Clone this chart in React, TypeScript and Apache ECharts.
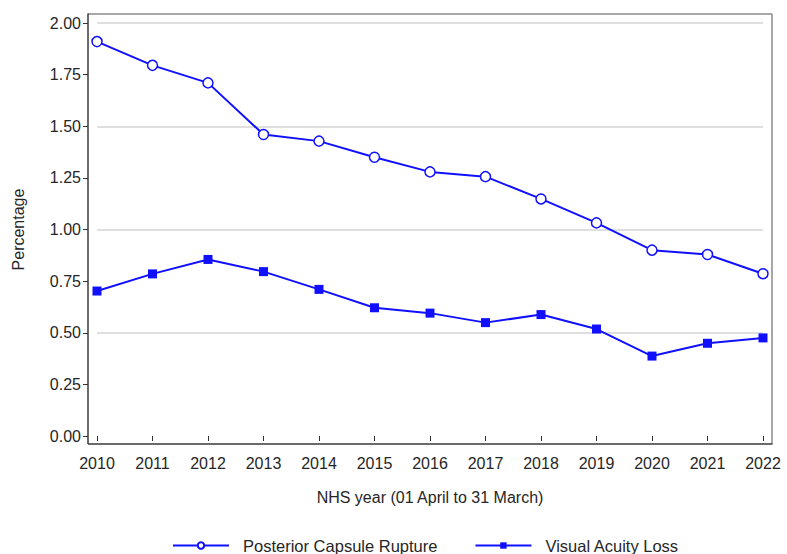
import React, { useEffect, useRef } from "react";
import * as echarts from "echarts";

const years = ["2010", "2011", "2012", "2013", "2014", "2015", "2016", "2017", "2018", "2019", "2020", "2021", "2022"];
const posteriorCapsuleRupture = [1.91, 1.795, 1.71, 1.46, 1.428, 1.35, 1.279, 1.256, 1.148, 1.032, 0.9, 0.879, 0.786];
const visualAcuityLoss = [0.702, 0.785, 0.855, 0.796, 0.71, 0.621, 0.595, 0.549, 0.588, 0.518, 0.387, 0.449, 0.475];
const seriesNames = ["Posterior Capsule Rupture", "Visual Acuity Loss"];

const FONT = "Liberation Sans, Arial, sans-serif";
const TEXT = "#262626";
const BLUE = "#1010ff";

export default function App() {
  const ref = useRef<HTMLDivElement>(null);
  useEffect(() => {
    if (!ref.current) return;
    const chart = echarts.init(ref.current, null, { renderer: "svg" });
    chart.setOption({
      animation: false,
      backgroundColor: "#ffffff",
      textStyle: { fontFamily: FONT },
      grid: { left: 97, right: 24, top: 23, bottom: 118 },
      legend: {
        top: 532,
        left: 167,
        itemWidth: 56,
        itemHeight: 8,
        itemGap: 37,
        textStyle: { fontFamily: FONT, fontSize: 16.5, color: TEXT, padding: [0, 0, 0, 9] },
        data: seriesNames,
      },
      xAxis: {
        type: "category",
        data: years,
        boundaryGap: false,
        offset: 8,
        axisLine: { show: false },
        axisTick: { show: true, length: 5, lineStyle: { color: "#333" } },
        axisLabel: { fontSize: 16, color: TEXT, margin: 11, fontFamily: FONT },
        splitLine: { show: false },
        name: "NHS year (01 April to 31 March)",
        nameLocation: "middle",
        nameGap: 45,
        nameTextStyle: { fontSize: 16, color: TEXT, fontFamily: FONT },
      },
      yAxis: [
        {
          type: "value",
          min: 0,
          max: 2,
          interval: 0.25,
          offset: 9,
          axisLine: { show: false },
          axisTick: { show: true, length: 5, lineStyle: { color: "#333" } },
          axisLabel: {
            fontSize: 16,
            color: TEXT,
            margin: 7,
            fontFamily: FONT,
            formatter: (v: number) => v.toFixed(2),
          },
          splitLine: { show: false },
          name: "Percentage",
          nameLocation: "middle",
          nameGap: 62,
          nameTextStyle: { fontSize: 16, color: TEXT, fontFamily: FONT },
        },
        {
          type: "value",
          min: 0,
          max: 2,
          interval: 0.5,
          position: "left",
          axisLine: { show: false },
          axisTick: { show: false },
          axisLabel: { show: false },
          splitLine: {
            show: true,
            showMinLine: false,
            showMaxLine: true,
            lineStyle: { color: "#d4d4d4", width: 1.5 },
          },
        },
      ],
      graphic: [
        { type: "line", shape: { x1: 88, y1: 14, x2: 772, y2: 14 }, style: { stroke: "#8a8a8a", lineWidth: 1.5 }, z: 1 },
        { type: "line", shape: { x1: 772, y1: 14, x2: 772, y2: 444 }, style: { stroke: "#8a8a8a", lineWidth: 1.5 }, z: 1 },
        { type: "line", shape: { x1: 88, y1: 13.5, x2: 88, y2: 444 }, style: { stroke: "#3a3a3a", lineWidth: 1.5 }, z: 1 },
        { type: "line", shape: { x1: 88, y1: 444, x2: 772.5, y2: 444 }, style: { stroke: "#3a3a3a", lineWidth: 1.5 }, z: 1 },
      ],
      series: [
        {
          name: seriesNames[0],
          type: "line",
          data: posteriorCapsuleRupture,
          symbol: "circle",
          symbolSize: 10,
          itemStyle: { color: "#ffffff", borderColor: BLUE, borderWidth: 1.5 },
          lineStyle: { color: BLUE, width: 2 },
          z: 5,
        },
        {
          name: seriesNames[1],
          type: "line",
          data: visualAcuityLoss,
          symbol: "rect",
          symbolSize: 9,
          itemStyle: { color: BLUE, borderColor: BLUE, borderWidth: 0 },
          lineStyle: { color: BLUE, width: 2 },
          z: 5,
        },
      ],
    });
    return () => chart.dispose();
  }, []);
  return <div ref={ref} style={{ width: 787, height: 554, position: "absolute", left: 0, top: 0 }} />;
}
